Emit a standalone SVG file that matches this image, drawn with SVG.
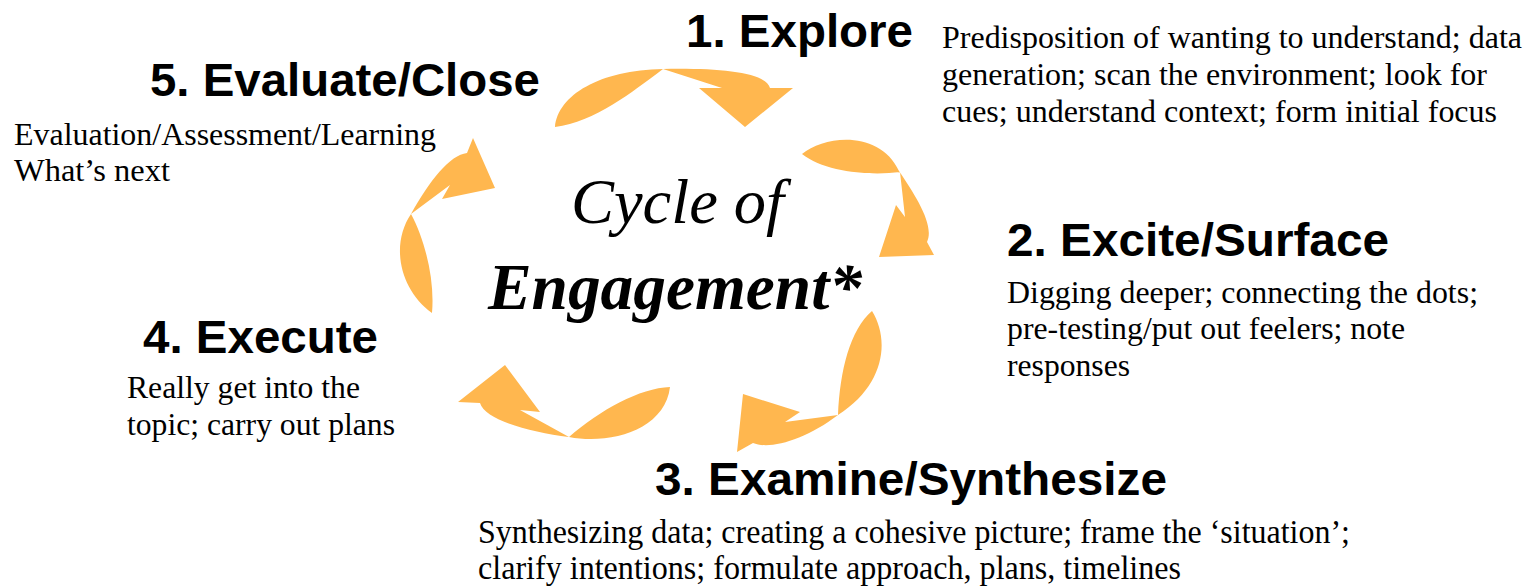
<svg xmlns="http://www.w3.org/2000/svg" width="1535" height="586" viewBox="0 0 1535 586">
<style>
.h{font-family:"Liberation Sans",Arial,sans-serif;font-weight:bold;font-size:47px;fill:#000}
.b{font-family:"Liberation Serif","Times New Roman",serif;font-size:31.5px;fill:#000}
.b3{font-family:"Liberation Serif","Times New Roman",serif;font-size:34px;fill:#000}
.arrow{fill:#FFB74F;stroke:none}
.c1{font-family:"Liberation Serif","Times New Roman",serif;font-style:italic;font-size:63px;fill:#000}
.c2{font-family:"Liberation Serif","Times New Roman",serif;font-style:italic;font-weight:bold;font-size:65px;fill:#000}
</style>
<rect width="1535" height="586" fill="#fff"/>
<g id="connectors">
<path class="arrow" d="M555,127 C558,95 600,70 663,69 C720,68 765,72 770,88 L793,88 L745,127 L699,88 L722,88 L663,69 C632,92 595,122 555,127 Z"/>
<path class="arrow" d="M802,154 C825,135 880,130 899,171 C915,195 935,225 927,242 L934,255 L879,257 L896,205 L905,217 L900,172 C870,176 825,172 802,154 Z"/>
<path class="arrow" d="M872,311 C890,340 885,385 838,415 C805,440 770,450 753,443 L737,452 L743,394 L800,412 L785,422 L838,415 C840,370 850,330 872,311 Z"/>
<path class="arrow" d="M670,387 C665,430 610,445 569,437 C530,432 485,420 480,403 L458,402 L505,365 L540,412 L520,410 L569,437 C600,410 640,388 670,387 Z"/>
<path class="arrow" d="M432,313 C400,290 390,245 411,214 C430,180 450,155 467,153 L473,138 L495,188 L442,199 L450,185 L411,214 C425,240 435,280 432,313 Z"/>
</g>
<g id="center">
<text class="c1" x="571" y="223" textLength="213" lengthAdjust="spacingAndGlyphs">Cycle of</text>
<text class="c2" x="488" y="309" textLength="374" lengthAdjust="spacingAndGlyphs">Engagement*</text>
</g>
<g id="stage1">
<text class="h" x="686" y="47" textLength="227" lengthAdjust="spacingAndGlyphs">1. Explore</text>
<text class="b" x="942" y="48" textLength="580" lengthAdjust="spacingAndGlyphs">Predisposition of wanting to understand; data</text>
<text class="b" x="942" y="85" textLength="545" lengthAdjust="spacingAndGlyphs">generation; scan the environment; look for</text>
<text class="b" x="942" y="122" textLength="555" lengthAdjust="spacingAndGlyphs">cues; understand context; form initial focus</text>
</g>
<g id="stage2">
<text class="h" x="1007" y="256" textLength="382" lengthAdjust="spacingAndGlyphs">2. Excite/Surface</text>
<text class="b" x="1007" y="303" textLength="471" lengthAdjust="spacingAndGlyphs">Digging deeper; connecting the dots;</text>
<text class="b" x="1007" y="339" textLength="398" lengthAdjust="spacingAndGlyphs">pre-testing/put out feelers; note</text>
<text class="b" x="1007" y="376" textLength="123" lengthAdjust="spacingAndGlyphs">responses</text>
</g>
<g id="stage3">
<text class="h" x="655" y="495" textLength="512" lengthAdjust="spacingAndGlyphs">3. Examine/Synthesize</text>
<text class="b3" x="478" y="543" textLength="872" lengthAdjust="spacingAndGlyphs">Synthesizing data; creating a cohesive picture; frame the ‘situation’;</text>
<text class="b3" x="478" y="579" textLength="703" lengthAdjust="spacingAndGlyphs">clarify intentions; formulate approach, plans, timelines</text>
</g>
<g id="stage4">
<text class="h" x="143" y="353" textLength="235" lengthAdjust="spacingAndGlyphs">4. Execute</text>
<text class="b" x="127" y="398" textLength="233" lengthAdjust="spacingAndGlyphs">Really get into the</text>
<text class="b" x="127" y="435" textLength="268" lengthAdjust="spacingAndGlyphs">topic; carry out plans</text>
</g>
<g id="stage5">
<text class="h" x="150" y="96" textLength="390" lengthAdjust="spacingAndGlyphs">5. Evaluate/Close</text>
<text class="b" x="14" y="145" textLength="422" lengthAdjust="spacingAndGlyphs">Evaluation/Assessment/Learning</text>
<text class="b" x="14" y="181" textLength="156" lengthAdjust="spacingAndGlyphs">What’s next</text>
</g>
</svg>
